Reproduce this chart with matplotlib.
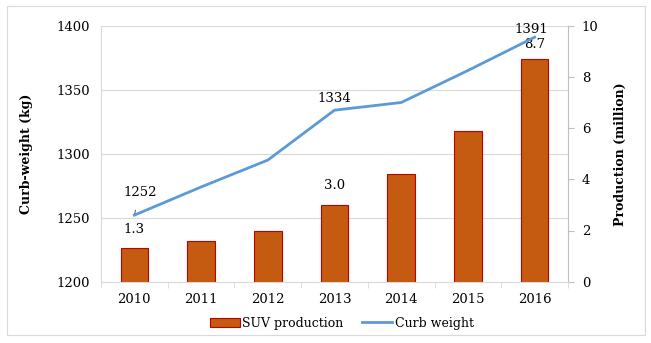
import matplotlib
matplotlib.use("Agg")
import matplotlib.pyplot as plt
from matplotlib.patches import Rectangle
from matplotlib.lines import Line2D

years = ["2010", "2011", "2012", "2013", "2014", "2015", "2016"]
production = [1.3, 1.6, 2.0, 3.0, 4.2, 5.9, 8.7]
curb_weight = [1252, 1274, 1295, 1334, 1340, 1365, 1391]

plt.rcParams['font.family'] = ['DejaVu Serif']
W, H = 651, 343
fig = plt.figure(figsize=(W/100, H/100), dpi=100)
fig.patches.append(Rectangle((7/W, 1-335/H), (645-7)/W, (335-6)/H, transform=fig.transFigure,
                             fill=False, edgecolor='#D9D9D9', linewidth=0.8))

pos = [101/W, 1-281.7/H, (568-101)/W, (281.7-25.7)/H]
# background axes for gridlines (left scale)
axg = fig.add_axes(pos, zorder=0)
axg.set_xlim(-0.5, len(years)-0.5)
axg.set_ylim(1200, 1400)
axg.set_yticks([1200, 1250, 1300, 1350, 1400])
axg.grid(axis='y', color='#D9D9D9', linewidth=0.8)
axg.tick_params(left=False, bottom=False, labelleft=False, labelbottom=False)
for s in axg.spines.values():
    s.set_visible(False)

ax2 = fig.add_axes(pos, zorder=1)
ax2.patch.set_visible(False)
ax = fig.add_axes(pos, zorder=2, sharex=ax2)
ax.patch.set_visible(False)

x = list(range(len(years)))
ax2.bar(x, production, width=0.415, color='#C55A11', edgecolor='#C00000', linewidth=0.8, zorder=2)
ax.plot(x, curb_weight, color='#5B9BD5', linewidth=2, zorder=3)

ax.set_xlim(-0.5, len(years)-0.5)
ax.set_ylim(1200, 1400)
ax.set_yticks([1200, 1250, 1300, 1350, 1400])
ax2.set_ylim(0, 10)
ax2.set_yticks([0, 2, 4, 6, 8, 10])
ax2.yaxis.tick_right()
ax2.yaxis.set_label_position('right')
ax.set_xticks(x)
ax.set_xticklabels(years)
ax.set_xticks([i+0.5 for i in range(-1, len(years))], minor=True)
ax2.tick_params(axis='x', which='both', bottom=False, labelbottom=False)
ax.tick_params(axis='x', which='major', length=0, pad=8, labelsize=9.5, colors='#000000')
ax.tick_params(axis='x', which='minor', length=4, color='#D9D9D9', direction='out')
ax.tick_params(axis='y', length=0, pad=8, labelsize=9.5)
ax2.tick_params(axis='y', length=4, color='#BFBFBF', labelsize=9.5, pad=6)
for s in ['top', 'right']:
    ax.spines[s].set_visible(False)
ax.spines['left'].set_color('#D9D9D9')
ax.spines['bottom'].set_color('#D9D9D9')
for s in ['top', 'left', 'bottom']:
    ax2.spines[s].set_visible(False)
ax2.spines['right'].set_color('#BFBFBF')

ax.set_ylabel("Curb-weight (kg)", fontsize=9, fontweight='bold', labelpad=17)
ax2.set_ylabel("Production (million)", fontsize=9, fontweight='bold', labelpad=11)

# annotations
ax.annotate(str(curb_weight[0]), xy=(x[0], curb_weight[0]), xytext=(x[0]+0.08, curb_weight[0]+17.5),
            ha='center', va='center', fontsize=9.5,
            arrowprops=dict(arrowstyle='-', color='#404040', linewidth=0.6, shrinkA=6, shrinkB=1))
ax2.text(x[0], production[0]+0.5, f"{production[0]:.1f}", ha='center', va='bottom', fontsize=9.5)
ax.text(x[3], curb_weight[3]+4, str(curb_weight[3]), ha='center', va='bottom', fontsize=9.5)
ax2.text(x[3], production[3]+0.5, f"{production[3]:.1f}", ha='center', va='bottom', fontsize=9.5)
ax.text(x[6]-0.05, curb_weight[6]+1, str(curb_weight[6]), ha='center', va='bottom', fontsize=9.5)
ax2.text(x[6], production[6]+0.3, f"{production[6]:.1f}", ha='center', va='bottom', fontsize=9.5)

handles = [Rectangle((0, 0), 1, 1, facecolor='#C55A11', edgecolor='#C00000', linewidth=0.8),
           Line2D([0], [0], color='#5B9BD5', linewidth=2)]
fig.legend(handles, ["SUV production", "Curb weight"], loc='center', bbox_to_anchor=(342/W, 1-323/H),
           ncol=2, frameon=False, fontsize=9, handlelength=2.4, handletextpad=0.2, columnspacing=1.5)

fig.savefig("out.png", dpi=100)
